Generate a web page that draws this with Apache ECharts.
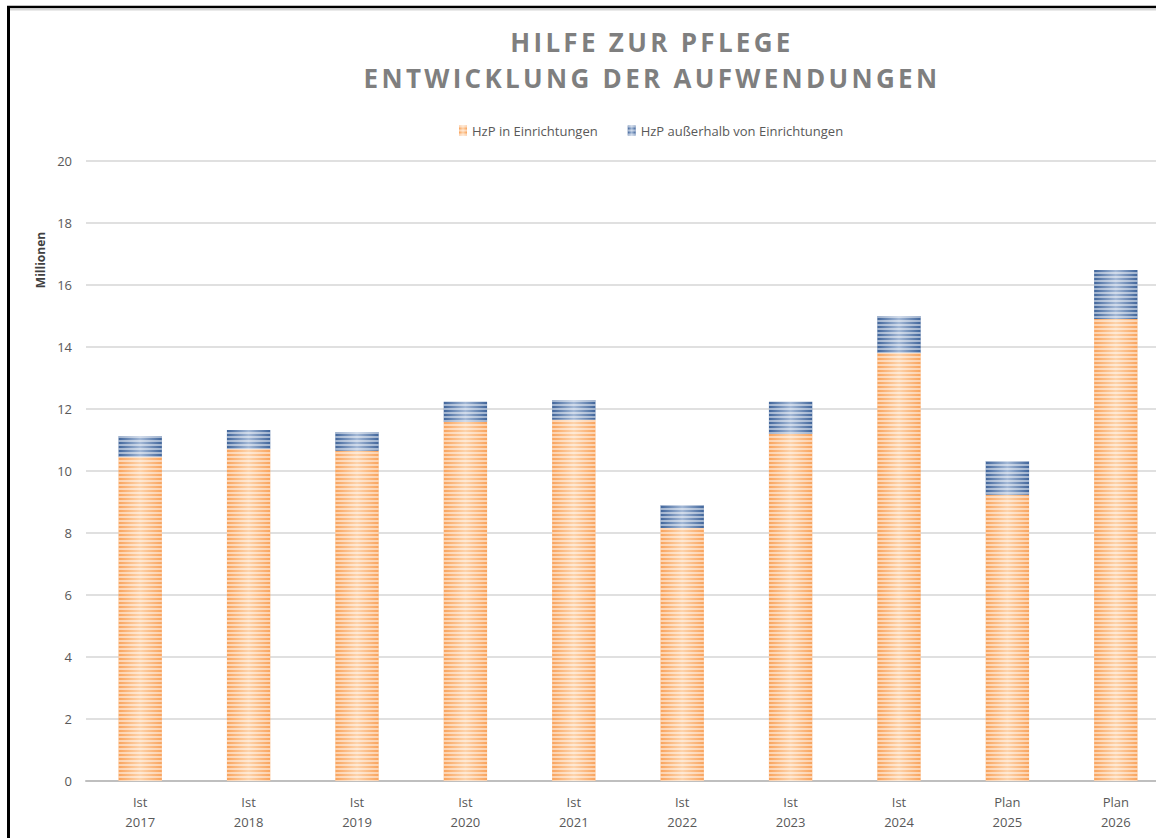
<!DOCTYPE html>
<html>
<head>
<meta charset="utf-8">
<script src="https://cdn.jsdelivr.net/npm/echarts@6/dist/echarts.min.js"></script>
<style>
  html, body { margin: 0; padding: 0; background: #fff; overflow: hidden; }
  #wrap { width: 1156px; height: 838px; overflow: hidden; }
  #main { width: 1172px; height: 838px; }
  #main text[style*="26px"], #main text[font-size="26"], #main text[font-size="26px"] { letter-spacing: 3.3px; }
</style>
</head>
<body>
<div id="wrap"><div id="main"></div></div>
<script>
var chartDom = document.getElementById('main');
var myChart = echarts.init(chartDom, null, { renderer: 'svg' });
var option;

// Werte in Millionen
const categories = ['Ist\n2017', 'Ist\n2018', 'Ist\n2019', 'Ist\n2020', 'Ist\n2021',
                    'Ist\n2022', 'Ist\n2023', 'Ist\n2024', 'Plan\n2025', 'Plan\n2026'];
const inEinrichtungen = [10.45, 10.71, 10.65, 11.58, 11.65, 8.16, 11.19, 13.81, 9.23, 14.90];
const ausserhalb = [0.68, 0.61, 0.61, 0.65, 0.64, 0.74, 1.04, 1.19, 1.09, 1.58];
const yTicks = [0, 2, 4, 6, 8, 10, 12, 14, 16, 18, 20];

const FONT = 'Open Sans';
const textColor = '#595959';

function barFill(edge, center)
{
  return new echarts.graphic.LinearGradient(0, 0, 1, 0, [
    { offset: 0, color: edge },
    { offset: 0.5, color: center },
    { offset: 1, color: edge }
  ]);
}

const stripes = {
  symbol: 'rect',
  symbolSize: 1,
  color: 'rgba(255,255,255,0.5)',
  dashArrayX: [1, 0],
  dashArrayY: [2, 2],
  rotation: 0
};

option = {
  backgroundColor: '#fff',
  animation: false,
  title: {
    text: 'HILFE ZUR PFLEGE\nENTWICKLUNG DER AUFWENDUNGEN',
    left: 652,
    top: 24,
    padding: 0,
    textAlign: 'center',
    textStyle: {
      fontFamily: FONT,
      fontSize: 26,
      fontWeight: 'bold',
      color: '#7f7f7f',
      lineHeight: 36
    }
  },
  legend: {
    left: 454,
    top: 119,
    itemWidth: 8,
    itemHeight: 10,
    itemGap: 30,
    icon: 'rect',
    textStyle: { fontFamily: FONT, fontSize: 13, color: textColor },
    data: ['HzP in Einrichtungen', 'HzP außerhalb von Einrichtungen']
  },
  grid: {
    left: 86,
    right: 2,
    top: 161,
    bottom: 57,
    containLabel: false
  },
  xAxis: {
    type: 'category',
    data: categories,
    axisTick: { show: false },
    axisLine: { show: true, lineStyle: { color: '#bfbfbf', width: 2 } },
    axisLabel: { fontFamily: FONT, fontSize: 13, color: textColor, lineHeight: 20, margin: 11, interval: 0 }
  },
  yAxis: {
    type: 'value',
    min: yTicks[0],
    max: yTicks[yTicks.length - 1],
    interval: 2,
    axisLine: { show: false },
    axisTick: { show: false },
    axisLabel: { fontFamily: FONT, fontSize: 13, color: textColor, margin: 14 },
    splitLine: { lineStyle: { color: '#e0e0e0', width: 2 } }
  },
  graphic: [
    { type: 'line', shape: { x1: 7, y1: 7, x2: 1172, y2: 7 }, style: { stroke: '#000', lineWidth: 2.5 } },
    { type: 'line', shape: { x1: 10, y1: 9.5, x2: 1172, y2: 9.5 }, style: { stroke: '#d6d6d6', lineWidth: 2 } },
    { type: 'line', shape: { x1: 8.5, y1: 6, x2: 8.5, y2: 840 }, style: { stroke: '#000', lineWidth: 3 } },
    {
      type: 'text',
      x: 40,
      y: 260,
      rotation: Math.PI / 2,
      style: {
        text: 'Millionen',
        fontFamily: FONT,
        fontSize: 12,
        fontWeight: 'bold',
        fill: '#404040',
        align: 'center',
        verticalAlign: 'middle'
      }
    }
  ],
  series: [
    {
      name: 'HzP in Einrichtungen',
      type: 'bar',
      stack: 'total',
      barWidth: '40%',
      data: inEinrichtungen,
      itemStyle: { color: barFill('#f9a35c', '#fdd3ab'), decal: stripes }
    },
    {
      name: 'HzP außerhalb von Einrichtungen',
      type: 'bar',
      stack: 'total',
      barWidth: '40%',
      data: ausserhalb,
      itemStyle: { color: barFill('#40659b', '#a3b8d6'), decal: stripes }
    }
  ]
};

option && myChart.setOption(option);
</script>
</body>
</html>
